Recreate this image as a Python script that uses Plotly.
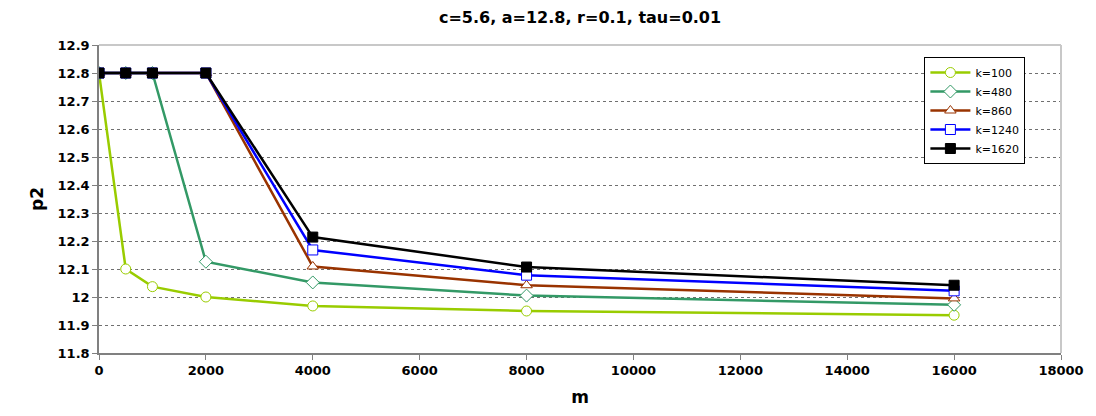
import plotly.graph_objects as go

m_values = [0, 500, 1000, 2000, 4000, 8000, 16000]
k100 = [12.8, 12.10, 12.037, 12.0, 11.968, 11.95, 11.935]
k480 = [12.8, 12.8, 12.8, 12.126, 12.052, 12.005, 11.972]
k860 = [12.8, 12.8, 12.8, 12.8, 12.109, 12.042, 11.995]
k1240 = [12.8, 12.8, 12.8, 12.8, 12.168, 12.078, 12.022]
k1620 = [12.8, 12.8, 12.8, 12.8, 12.214, 12.107, 12.042]

series_names = ["k=100", "k=480", "k=860", "k=1240", "k=1620"]
series_values = [k100, k480, k860, k1240, k1620]
colors = ["#99cc00", "#339966", "#993300", "#0000ff", "#000000"]
symbols = ["circle", "diamond", "triangle-up", "square", "square"]
fills = ["white", "white", "white", "white", "#000000"]

x_ticks = [0, 2000, 4000, 6000, 8000, 10000, 12000, 14000, 16000, 18000]
x_ticktext = [str(v) for v in x_ticks]
y_ticks = [11.8, 11.9, 12.0, 12.1, 12.2, 12.3, 12.4, 12.5, 12.6, 12.7, 12.8, 12.9]
y_ticktext = ["11.8", "11.9", "12", "12.1", "12.2", "12.3", "12.4", "12.5", "12.6", "12.7", "12.8", "12.9"]

fig = go.Figure()
for name, vals, col, sym, fill in zip(series_names, series_values, colors, symbols, fills):
    fig.add_trace(go.Scatter(
        x=m_values, y=vals, name=name, mode="lines+markers",
        line=dict(color=col, width=2.5),
        marker=dict(symbol=sym, size=10, color=fill, line=dict(color=col, width=1)),
    ))

font_family = "DejaVu Sans, Liberation Sans, Arial, sans-serif"
fig.update_layout(
    width=1088, height=408,
    paper_bgcolor="white", plot_bgcolor="white",
    margin=dict(l=91, r=34, t=37, b=61),
    title=dict(text="<b>c=5.6, a=12.8, r=0.1, tau=0.01</b>", x=0.5, xanchor="center",
               xref="paper", yref="container", y=0.978, yanchor="middle",
               font=dict(family=font_family, size=16, color="black")),
    font=dict(family=font_family, color="black"),
    showlegend=True,
    legend=dict(x=0.858, y=0.961, xanchor="left", yanchor="top",
                bordercolor="black", borderwidth=1, bgcolor="white",
                font=dict(family=font_family, size=11, color="black"),
                tracegroupgap=0, itemwidth=40),
    xaxis=dict(range=[0, 18000], tickmode="array", tickvals=x_ticks, ticktext=x_ticktext,
               showline=True, linecolor="#808080", linewidth=1.5,
               ticks="outside", ticklen=5, tickcolor="#808080",
               showgrid=False, zeroline=False,
               tickfont=dict(family=font_family, size=13, color="black", weight="bold"),
               title=dict(text="<b>m</b>", font=dict(family=font_family, size=17), standoff=14)),
    yaxis=dict(range=[11.8, 12.9], tickmode="array", tickvals=y_ticks, ticktext=y_ticktext,
               showline=True, linecolor="#808080", linewidth=1.5,
               ticks="outside", ticklen=5, tickcolor="#808080",
               showgrid=True, gridcolor="#707070", griddash="3px,3px", gridwidth=1,
               zeroline=False,
               tickfont=dict(family=font_family, size=13, color="black", weight="bold"),
               title=dict(text="<b>p2</b>", font=dict(family=font_family, size=17), standoff=10)),
    shapes=[
        dict(type="line", xref="paper", yref="paper", x0=0, x1=1, y0=1, y1=1,
             line=dict(color="#c8c8c8", width=2)),
        dict(type="line", xref="paper", yref="paper", x0=1, x1=1, y0=0, y1=1,
             line=dict(color="#c8c8c8", width=2)),
    ],
)

fig.write_html("out.html")
